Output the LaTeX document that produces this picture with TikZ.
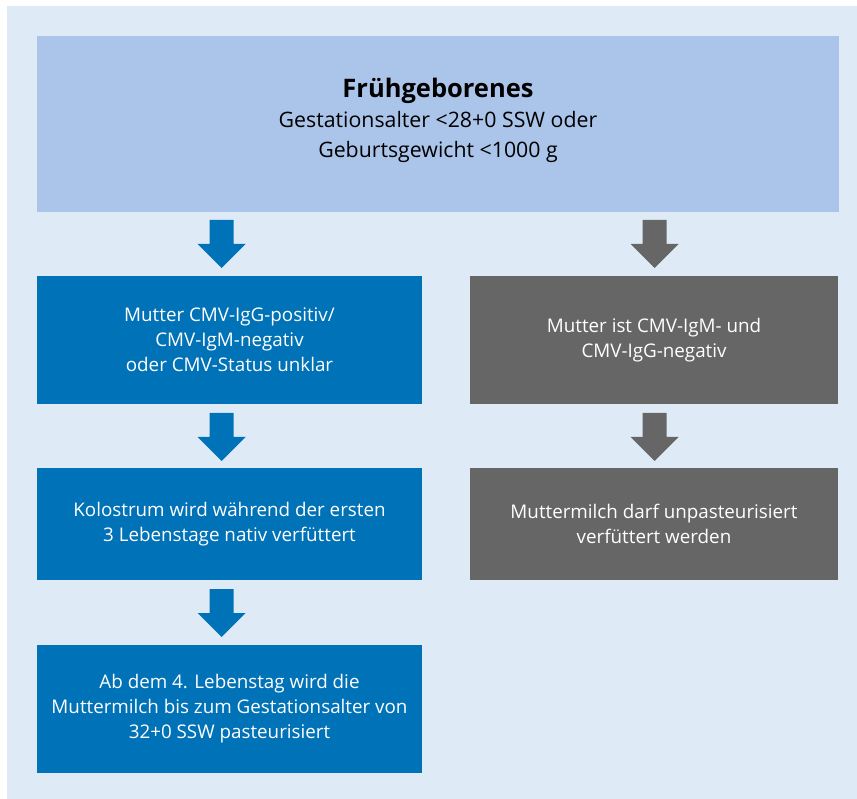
\documentclass[tikz,border=0pt]{standalone}
\usepackage{fontspec}
\setmainfont{Open Sans}
\definecolor{bgblue}{HTML}{DEEBF7}
\definecolor{topblue}{HTML}{ABC4E9}
\definecolor{midblue}{HTML}{0072B7}
\definecolor{darkgray}{HTML}{666666}
\newcommand{\blockarrow}[3]{\fill[#3] (#1-12,#2) -- (#1+12,#2) -- (#1+12,#2+24) -- (#1+24,#2+24) -- (#1,#2+48) -- (#1-24,#2+24) -- (#1-12,#2+24) -- cycle;}
\begin{document}
\begin{tikzpicture}[x=1pt,y=-1pt,
  box/.style={rectangle, inner sep=0pt, outer sep=0pt, align=center, text=white,
    font=\fontsize{18.8}{25}\selectfont},
  bluebox/.style={box, fill=midblue},
  graybox/.style={box, fill=darkgray},
  topbox/.style={box, fill=topblue}]
\useasboundingbox (0,0) rectangle (857,799);
\fill[bgblue] (7,6) rectangle (857,799);
\node[topbox, minimum width=802pt, minimum height=176pt] (top) at (438,124) {};
\node[align=center, inner sep=0pt, font=\fontsize{21.3}{30}\selectfont] (toptext) at (438,120)
  {{\fontsize{25.5}{30}\selectfont\bfseries Frühgeborenes}\\Gestationsalter <28+0 SSW oder\\Geburtsgewicht <1000 g};
\node[bluebox, minimum width=385pt, minimum height=128pt] (l1) at (229.5,340)
  {Mutter CMV-IgG-positiv/\\CMV-IgM-negativ\\oder CMV-Status unklar};
\node[bluebox, minimum width=385pt, minimum height=112pt] (l2) at (229.5,524)
  {Kolostrum wird während der ersten\\3 Lebenstage nativ verfüttert};
\node[bluebox, minimum width=385pt, minimum height=128pt] (l3) at (229.5,709)
  {Ab dem 4. Lebenstag wird die\\Muttermilch bis zum Gestationsalter von\\32+0 SSW pasteurisiert};
\node[graybox, minimum width=368pt, minimum height=128pt] (r1) at (654,340)
  {Mutter ist CMV-IgM- und\\CMV-IgG-negativ};
\node[graybox, minimum width=368pt, minimum height=112pt] (r2) at (654,524)
  {Muttermilch darf unpasteurisiert\\verfüttert werden};
\blockarrow{221.5}{220}{midblue}
\blockarrow{221.5}{413}{midblue}
\blockarrow{221.5}{589}{midblue}
\blockarrow{654.5}{220}{darkgray}
\blockarrow{654.5}{413}{darkgray}
\end{tikzpicture}
\end{document}
